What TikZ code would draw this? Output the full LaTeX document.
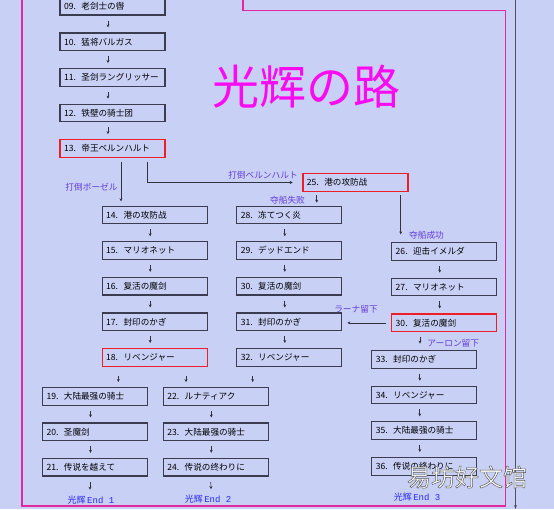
\documentclass[tikz,border=0pt]{standalone}
\usepackage{fontspec}
\newfontfamily\cjk{Noto Sans CJK SC}
\newfontfamily\wmfont[FakeBold=2]{Noto Sans CJK SC}
\newfontfamily\monofnt{Liberation Mono}
\usetikzlibrary{arrows.meta}
\definecolor{bgc}{RGB}{200,208,245}
\definecolor{framec}{RGB}{228,40,160}
\definecolor{boxc}{RGB}{60,60,80}
\definecolor{redc}{RGB}{238,30,36}
\definecolor{labc}{RGB}{100,60,215}
\definecolor{endc}{RGB}{40,40,250}
\definecolor{titlec}{RGB}{250,10,240}
\definecolor{linec}{RGB}{50,50,65}
\definecolor{vlinec}{RGB}{80,80,100}
\newcommand\bxt[2]{#1.\hspace{5.5pt}#2}
\newcommand\myarrow[2]{\draw[arr] ([xshift=-4.5pt,yshift=-5pt]#1.south) -- ([xshift=-4.5pt,yshift=5pt]#2.north);}
\begin{document}
\begin{tikzpicture}[x=1pt,y=-1pt,
 box/.style={draw=boxc,line width=1.1pt,minimum width=105pt,minimum height=17.6pt,inner xsep=4pt,inner ysep=0pt,text width=97pt,align=left,font=\cjk\fontsize{8.6}{9}\selectfont,text=black},
 redbox/.style={box,draw=redc,line width=1.3pt},
 arr/.style={draw=linec,line width=0.7pt,-{Stealth[length=3pt,width=3pt]}},
 lab/.style={font=\cjk\fontsize{8.7}{10}\selectfont,text=labc,inner sep=0pt},
 endlab/.style={font=\fontsize{9}{10}\selectfont,text=endc,inner sep=0pt},
 wm/.style={font=\wmfont\fontsize{24}{26}\selectfont,inner sep=0pt}]
\fill[bgc] (0,0) rectangle (554,509);
\useasboundingbox (0,0) rectangle (554,509);
\clip (0,0) rectangle (554,509);
% frame
\draw[framec,line width=1.4pt] (243,-2) -- (243,10.5) -- (505.7,10.5) -- (505.7,506) -- (22,506) -- (22,-2);
\draw[vlinec,line width=1.1pt,-{Stealth[length=4pt,width=3pt]}] (515.5,-2) -- (515.5,509);
% title
\node[font=\cjk\fontsize{47}{48}\selectfont,text=titlec,inner sep=0pt] (title) at (306,87) {光辉の路};
% column A
\node[box] (b09) at (112.5,6.2) {\bxt{09}{老剑士の辔}};
\node[box] (b10) at (112.5,41.8) {\bxt{10}{猛将バルガス}};
\node[box] (b11) at (112.5,77.4) {\bxt{11}{圣剑ラングリッサー}};
\node[box] (b12) at (112.5,113.0) {\bxt{12}{铁壁の骑士团}};
\node[redbox] (b13) at (112.5,148.6) {\bxt{13}{帝王ベルンハルト}};
% column B
\node[box] (b14) at (154.7,215) {\bxt{14}{港の攻防战}};
\node[box] (b15) at (154.7,250.6) {\bxt{15}{マリオネット}};
\node[box] (b16) at (154.7,286.2) {\bxt{16}{复活の魔剑}};
\node[box] (b17) at (154.7,321.8) {\bxt{17}{封印のかぎ}};
\node[redbox] (b18) at (154.7,357.4) {\bxt{18}{リベンジャー}};
% column C
\node[box] (b28) at (289.3,215) {\bxt{28}{冻てつく炎}};
\node[box] (b29) at (289.3,250.6) {\bxt{29}{デッドエンド}};
\node[box] (b30) at (289.3,286.2) {\bxt{30}{复活の魔剑}};
\node[box] (b31) at (289.3,321.8) {\bxt{31}{封印のかぎ}};
\node[box] (b32) at (289.3,357.4) {\bxt{32}{リベンジャー}};
% box 25 and right column
\node[redbox] (b25) at (355.4,182.5) {\bxt{25}{港の攻防战}};
\node[box] (b26) at (444.2,251.4) {\bxt{26}{迎击イメルダ}};
\node[box] (b27) at (444.2,287.0) {\bxt{27}{マリオネット}};
\node[redbox] (b30r) at (444.2,322.9) {\bxt{30}{复活の魔剑}};
\node[box] (b33) at (424.3,359.3) {\bxt{33}{封印のかぎ}};
\node[box] (b34) at (424.3,395.0) {\bxt{34}{リベンジャー}};
\node[box] (b35) at (424.3,430.7) {\bxt{35}{大陆最强の骑士}};
\node[box] (b36) at (424.3,466.4) {\bxt{36}{传说の终わりに}};
% bottom columns
\node[box] (b19) at (95,396.4) {\bxt{19}{大陆最强の骑士}};
\node[box] (b20) at (95,431.8) {\bxt{20}{圣魔剑}};
\node[box] (b21) at (95,467.2) {\bxt{21}{传说を越えて}};
\node[box] (b22) at (215.8,396.4) {\bxt{22}{ルナティアク}};
\node[box] (b23) at (215.8,431.8) {\bxt{23}{大陆最强の骑士}};
\node[box] (b24) at (215.8,467.2) {\bxt{24}{传说の终わりに}};
% column arrows
\myarrow{b09}{b10}\myarrow{b10}{b11}\myarrow{b11}{b12}\myarrow{b12}{b13}
\myarrow{b14}{b15}\myarrow{b15}{b16}\myarrow{b16}{b17}\myarrow{b17}{b18}
\myarrow{b28}{b29}\myarrow{b29}{b30}\myarrow{b30}{b31}\myarrow{b31}{b32}
\myarrow{b26}{b27}\myarrow{b27}{b30r}
\myarrow{b33}{b34}\myarrow{b34}{b35}\myarrow{b35}{b36}
\myarrow{b19}{b20}\myarrow{b20}{b21}
\myarrow{b22}{b23}\myarrow{b23}{b24}
% branch connectors
\draw[arr] ([xshift=8.5pt,yshift=-4pt]b13.south) -- ([xshift=-33.7pt,yshift=4.3pt]b14.north);
\draw[arr] ([xshift=35.2pt,yshift=-4pt]b13.south) |- ([xshift=-9.5pt]b25.west);
\draw[arr] ([xshift=-38.7pt,yshift=-3.5pt]b25.south) -- ([xshift=27.4pt,yshift=3pt]b28.north);
\draw[arr] ([xshift=45.3pt,yshift=-3.5pt]b25.south) -- ([xshift=-43.5pt,yshift=7.7pt]b26.north);
\draw[arr] ([xshift=-5pt]b30r.west) -- ([xshift=5pt]b30r.west -| b31.east);
\draw[arr] ([xshift=-24.2pt,yshift=-4.4pt]b30r.south) -- ([xshift=-4.3pt,yshift=6.4pt]b33.north);
\draw[arr] ([xshift=-36.4pt,yshift=-9.3pt]b18.south) -- ([xshift=23.3pt,yshift=5pt]b19.north);
\draw[arr] ([xshift=31.3pt,yshift=-9.3pt]b18.south) -- ([xshift=-29.8pt,yshift=5pt]b22.north);
\draw[arr] ([xshift=-36.6pt,yshift=-9.3pt]b32.south) -- ([xshift=36.9pt,yshift=5pt]b22.north);
% labels
\node[lab] (l1) at (91.5,187.5) {打倒ボーゼル};
\node[lab] (l2) at (263,175.5) {打倒ベルンハルト};
\node[lab] (l3) at (287.5,200.7) {夺船失败};
\node[lab] (l4) at (426.5,235.5) {夺船成功};
\node[lab] (l5) at (356,309.3) {ラーナ留下};
\node[lab] (l6) at (453.3,342.7) {アーロン留下};
% ends
\node[endlab] (e1) at (91,500) {{\cjk 光辉}\,{\monofnt End 1}};
\node[endlab] (e2) at (208,499.5) {{\cjk 光辉}\,{\monofnt End 2}};
\node[endlab] (e3) at (417,497.3) {{\cjk 光辉}\,{\monofnt End 3}};
\draw[arr] ([xshift=-5pt,yshift=-5.5pt]b21.south) -- ([xshift=-1pt,yshift=6pt]e1.north);
\draw[arr] ([xshift=-5pt,yshift=-5.5pt]b24.south) -- ([xshift=3pt,yshift=6pt]e2.north);
\draw[arr] ([xshift=-4.5pt,yshift=-5.5pt]b36.south) -- ([xshift=3pt,yshift=6pt]e3.north);
% watermark (white fill, grey outline)
\node[wm] (wm) at (467,477) {\special{pdf:bcolor [1 1 1] [0.35 0.35 0.35]}易坊好文馆\special{pdf:ecolor}};
\end{tikzpicture}
\end{document}
